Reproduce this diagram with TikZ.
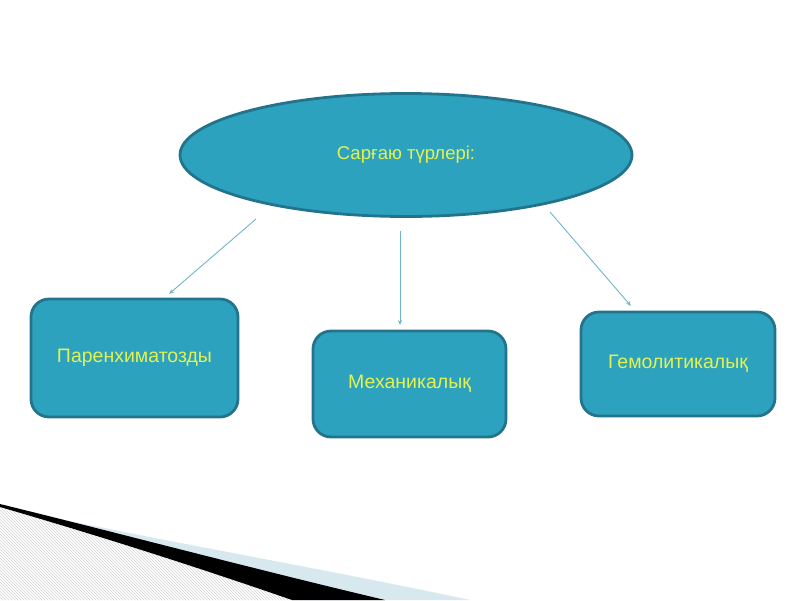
\documentclass[tikz,border=0pt]{standalone}
\usepackage{fontspec}
\setmainfont{Liberation Sans}
\usetikzlibrary{shapes.geometric,arrows.meta,patterns}
\definecolor{tealfill}{RGB}{45,162,190}
\definecolor{tealedge}{RGB}{36,115,140}
\definecolor{txtyellow}{RGB}{228,242,80}
\definecolor{arrblue}{RGB}{112,180,204}
\definecolor{swooshblue}{RGB}{216,232,239}
\tikzset{
  ovalbox/.style={ellipse, draw=tealedge, line width=2.8pt, fill=tealfill, minimum width=452pt, minimum height=123pt, inner sep=0pt, text=txtyellow, font=\fontsize{18.5}{20}\selectfont},
  typebox/.style={rectangle, rounded corners=18pt, draw=tealedge, line width=2.8pt, fill=tealfill, inner sep=0pt, text=txtyellow, font=\fontsize{19.5}{21}\selectfont},
  conn/.style={draw=arrblue, line width=0.9pt, -{Stealth[length=5pt,width=4pt]}}
}
\begin{document}
\begin{tikzpicture}[x=1pt,y=-1pt]
\useasboundingbox (0,0) rectangle (800,600);
% bottom-left swoosh
\fill[swooshblue] (60,519) .. controls (200,548) and (330,570) .. (470,600) -- (300,600) -- cycle;
\fill[pattern=north west lines, pattern color=black!18] (0,507) .. controls (100,536) and (200,568) .. (292,600) -- (0,600) -- cycle;
\fill[black] (0,504) .. controls (130,536) and (250,568) .. (385,600) -- (292,600) .. controls (200,568) and (100,536) .. (0,507) -- cycle;
% nodes
\node[ovalbox] (e) at (406,155) {Сарғаю түрлері:};
\node[typebox, minimum width=207pt, minimum height=118pt] (b1) at (134.5,358) {Паренхиматозды};
\node[typebox, minimum width=193pt, minimum height=106pt] (b2) at (409.5,384) {Механикалық};
\node[typebox, minimum width=194pt, minimum height=104pt] (b3) at (678,364) {Гемолитикалық};
% connectors
\coordinate (s1) at (256,219);
\coordinate (t1) at (169,294);
\coordinate (s2) at (400,231);
\coordinate (t2) at (400,325);
\coordinate (s3) at (550,212);
\coordinate (t3) at (631,306);
\draw[conn] (s1) -- (t1);
\draw[conn] (s2) -- (t2);
\draw[conn] (s3) -- (t3);
\end{tikzpicture}
\end{document}
